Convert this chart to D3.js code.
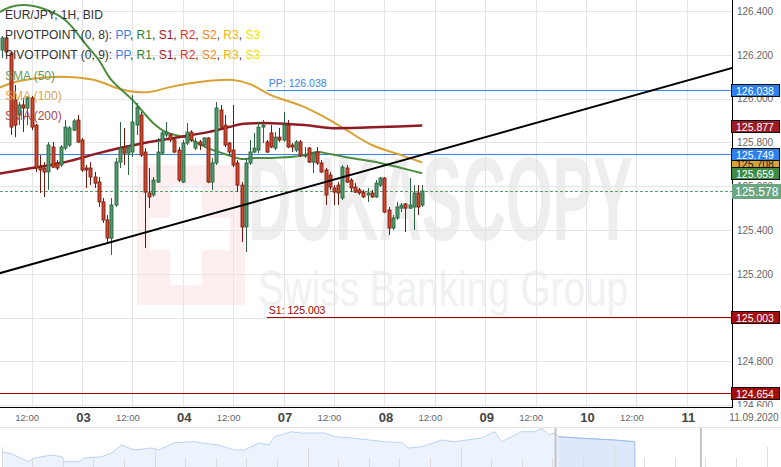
<!DOCTYPE html>
<html><head><meta charset="utf-8">
<script src="https://cdn.jsdelivr.net/npm/d3@7"></script>
<style>
body{margin:0;background:#fff;}
svg{display:block;font-family:"Liberation Sans",Arial,sans-serif;}
</style></head><body>
<svg id="c" width="781" height="467"></svg>
<script>
// ---------------- DATA ----------------
const firstHour = 5; // Sep 2, 05:00 (trading-hour index, weekend collapsed)
const open = [
126.222,126.277,126.208,125.994,125.925,125.971,125.957,126.003,125.879,125.687,
125.683,125.665,125.779,125.706,125.697,125.774,125.788,125.856,125.902,125.811,
125.683,125.683,125.642,125.619,125.528,125.446,125.363,125.514,125.710,125.779,
125.751,125.756,125.879,125.925,125.756,125.569,125.560,125.619,125.751,125.834,
125.834,125.811,125.765,125.619,125.797,125.847,125.774,125.802,125.788,125.820,
125.619,125.706,125.948,125.879,125.797,125.765,125.706,125.605,125.414,125.706,
125.756,125.765,125.870,125.802,125.843,125.774,125.824,125.811,125.879,125.788,
125.765,125.802,125.738,125.774,125.710,125.756,125.706,125.674,125.651,125.592,
125.605,125.546,125.683,125.628,125.596,125.583,125.573,125.560,125.569,125.551,
125.605,125.637,125.491,125.409,125.455,125.500,125.519,125.500,125.505,125.569,
125.514];
const high = [
126.286,126.290,126.213,126.062,125.984,126.003,126.012,126.012,125.884,125.742,
125.710,125.802,125.802,125.719,125.788,125.902,125.875,125.907,125.925,125.820,
125.697,125.710,125.665,125.642,125.546,125.468,125.546,125.729,125.893,125.866,
125.788,126.016,125.980,125.939,125.774,125.683,125.642,125.820,125.852,125.893,
125.843,125.824,125.779,125.811,125.888,125.856,125.820,125.811,125.824,125.824,
125.729,125.984,125.971,125.925,125.802,125.971,125.719,125.619,125.729,125.811,
125.843,125.893,125.902,125.811,125.879,125.847,125.866,125.939,125.902,125.797,
125.811,125.811,125.779,125.779,125.756,125.779,125.719,125.683,125.665,125.605,
125.619,125.697,125.697,125.637,125.614,125.592,125.583,125.592,125.583,125.628,
125.642,125.642,125.505,125.468,125.528,125.523,125.523,125.637,125.605,125.605,
125.605];
const low = [
126.185,126.199,125.834,125.824,125.879,125.847,125.879,125.856,125.665,125.569,
125.551,125.583,125.683,125.674,125.687,125.765,125.779,125.852,125.797,125.665,
125.592,125.605,125.592,125.505,125.432,125.341,125.286,125.505,125.683,125.697,
125.651,125.733,125.834,125.733,125.318,125.500,125.551,125.614,125.742,125.824,
125.802,125.751,125.619,125.614,125.788,125.802,125.765,125.765,125.779,125.614,
125.583,125.697,125.866,125.779,125.742,125.687,125.573,125.345,125.299,125.697,
125.751,125.751,125.797,125.751,125.774,125.765,125.802,125.802,125.774,125.756,
125.756,125.733,125.729,125.706,125.660,125.697,125.660,125.514,125.583,125.514,
125.514,125.537,125.614,125.573,125.569,125.560,125.546,125.528,125.546,125.546,
125.596,125.477,125.377,125.400,125.446,125.482,125.391,125.496,125.400,125.468,
125.505];
const close = [
126.277,126.213,125.870,125.879,125.971,125.957,126.003,125.870,125.683,125.674,
125.665,125.788,125.687,125.683,125.779,125.870,125.866,125.898,125.802,125.674,
125.674,125.642,125.614,125.528,125.446,125.363,125.514,125.710,125.774,125.751,
125.774,125.893,125.961,125.742,125.573,125.551,125.628,125.756,125.843,125.847,
125.811,125.756,125.628,125.797,125.847,125.811,125.802,125.788,125.820,125.619,
125.706,125.957,125.870,125.788,125.756,125.697,125.605,125.414,125.706,125.756,
125.774,125.870,125.879,125.756,125.779,125.824,125.811,125.879,125.779,125.779,
125.802,125.742,125.742,125.710,125.751,125.706,125.665,125.560,125.596,125.573,
125.569,125.687,125.619,125.592,125.573,125.569,125.551,125.569,125.551,125.614,
125.637,125.482,125.409,125.455,125.505,125.514,125.500,125.514,125.569,125.505,
125.578];

const sma50H = [4,7,10,15,20,25,28,31,36,41,44,49,54,58,62,65,69,76,80,83,88,95,100,105];
const sma50V = [126.391,126.418,126.427,126.409,126.359,126.245,126.176,126.085,125.994,125.888,125.847,125.820,125.774,125.747,125.724,125.729,125.729,125.738,125.756,125.747,125.729,125.706,125.683,125.659];
const sma100H = [4,9,16,22,27,33,37,40,46,52,60,64,69,77,83,87,93,100,105];
const sma100V = [126.048,126.080,126.098,126.098,126.085,126.044,126.030,126.030,126.057,126.076,126.085,126.066,126.016,125.961,125.902,125.856,125.788,125.742,125.708];
const sma200H = [4,12,20,28,33,40,47,54,59,62,69,77,83,88,95,105];
const sma200V = [125.656,125.683,125.710,125.751,125.774,125.802,125.824,125.847,125.870,125.884,125.888,125.879,125.866,125.866,125.870,125.877];

const trendH = [0,180];
const trendV = [125.179,126.146];

const pivotNames = ["PP","S1"];
const pivotValues = [126.038,125.003];
const pivotStartH = 68;
const prevPivotValues = [125.749,124.654];
const lastPrice = 125.578;

const yTicks = [124.6,124.8,125.0,125.2,125.4,125.6,125.8,126.0,126.2,126.4];
const xTickHours = [12,24,36,48,60,72,84,96,108,120,132,144,156,168];
const xTickLabels = ["12:00","03","12:00","04","12:00","07","12:00","08","12:00","09","12:00","10","12:00","11"];
const dateLabel = "11.09.2020";

// navigator (weeks, price)
const navT = [0,0.33,0.88,1.08,1.63,1.96,2.06,2.52,2.71,3.27,3.59,3.92,4.15,4.35,4.9,5.13,5.65,6.31,6.54,7.09,7.61,7.94,8.4,8.73,8.92,9.48,9.8,10.56,10.88,11.44,11.99,12.52,13.07,13.3,13.73,14.38,14.8,15.69,16.11,16.34,16.99,17.42,17.65,17.88,18.07,18.2,18.95,20.03,20.69];
const navV = [122.06,121.6,120.06,120.8,121.4,121.06,120.06,120.06,120.8,121.06,121.8,123.4,122.8,122.4,122.8,122.4,123.86,124.06,123.8,123.4,122.4,122.4,123.8,123.4,125.06,126.06,125.8,125.8,125.06,124.8,124.4,124.06,123.9,122.8,123.06,124.4,124.06,124.8,126.06,124.06,126.06,126.06,126.74,125.4,125.8,125.06,124.74,124.4,124.06];
const navSelStart = 18.1;

// ---------------- CHART ----------------
const svg = d3.select("#c");
const plotR = 732, plotB = 407;
const x = d3.scaleLinear().domain([0,168]).range([-18.8, 686.8]);
const y = d3.scaleLinear().domain([124.6,126.4]).range([405.2, 11]);

const defs = svg.append("defs");
defs.append("clipPath").attr("id","clip").append("rect").attr("x",0).attr("y",0).attr("width",plotR).attr("height",plotB);
defs.append("clipPath").attr("id","clipAx").append("rect").attr("x",plotR).attr("y",0).attr("width",60).attr("height",plotB);

svg.append("rect").attr("width",781).attr("height",467).attr("fill","#fff");

const plot = svg.append("g").attr("clip-path","url(#clip)");

// watermark
const wm = plot.append("g");
wm.append("rect").attr("x",137).attr("y",165).attr("width",108).attr("height",140).attr("fill","#fdefef");
wm.append("rect").attr("x",170).attr("y",185).attr("width",32).attr("height",100).attr("fill","#fff");
wm.append("rect").attr("x",150).attr("y",218).attr("width",80).attr("height",32).attr("fill","#fff");
wm.append("text").attr("x",248).attr("y",240).attr("font-size",118).attr("font-weight","bold")
  .attr("fill","#eeeeee").attr("textLength",385).attr("lengthAdjust","spacingAndGlyphs").text("DUKASCOPY");
wm.append("text").attr("x",258).attr("y",306).attr("font-size",50)
  .attr("fill","#f1f1f1").attr("textLength",370).attr("lengthAdjust","spacingAndGlyphs").text("Swiss Banking Group");

// grid
plot.selectAll("line.hg").data(yTicks).join("line")
  .attr("x1",0).attr("x2",plotR).attr("y1",d=>Math.round(y(d))+0.5).attr("y2",d=>Math.round(y(d))+0.5)
  .attr("stroke","#e5e5e5");
plot.selectAll("line.vg").data(xTickHours).join("line")
  .attr("x1",d=>Math.round(x(d))+0.5).attr("x2",d=>Math.round(x(d))+0.5).attr("y1",0).attr("y2",plotB)
  .attr("stroke","#e5e5e5");

// previous-period pivot lines (full width)
const prevColors = ["#3b82e6","#a00000"];
plot.selectAll("line.pp").data(prevPivotValues).join("line")
  .attr("x1",0).attr("x2",plotR).attr("y1",d=>Math.round(y(d))+0.5).attr("y2",d=>Math.round(y(d))+0.5)
  .attr("stroke",(d,i)=>prevColors[i]).attr("stroke-width",1);
// current pivots
const pivColors = ["#3b82e6","#a00000"];
plot.selectAll("line.cp").data(pivotValues).join("line")
  .attr("x1",x(pivotStartH)).attr("x2",plotR).attr("y1",d=>Math.round(y(d))+0.5).attr("y2",d=>Math.round(y(d))+0.5)
  .attr("stroke",(d,i)=>pivColors[i]);
plot.selectAll("text.cp").data(pivotValues).join("text")
  .attr("x",x(pivotStartH)+2).attr("y",d=>y(d)-3).attr("font-size",10.5)
  .attr("fill",(d,i)=>pivColors[i]).text((d,i)=>pivotNames[i]+": "+d3.format(".3f")(d));

// last price dashed
plot.append("line").attr("x1",0).attr("x2",plotR)
  .attr("y1",Math.round(y(lastPrice))+0.5).attr("y2",Math.round(y(lastPrice))+0.5)
  .attr("stroke","#5a9f6e").attr("stroke-dasharray","3,2");

// SMA lines
const lineGen = d3.line().x(d=>x(d[0])).y(d=>y(d[1])).curve(d3.curveCatmullRom.alpha(0.5));
plot.append("path").datum(d3.zip(sma100H,sma100V)).attr("d",lineGen).attr("fill","none").attr("stroke","#d9a033").attr("stroke-width",2);
plot.append("path").datum(d3.zip(sma50H,sma50V)).attr("d",lineGen).attr("fill","none").attr("stroke","#4d8c3f").attr("stroke-width",2);
plot.append("path").datum(d3.zip(sma200H,sma200V)).attr("d",lineGen).attr("fill","none").attr("stroke","#8f1c24").attr("stroke-width",2.5);

// candles
const candles = open.map((o,i)=>({h:firstHour+i,o,hi:high[i],lo:low[i],c:close[i]}));
const cg = plot.append("g");
cg.selectAll("line.w").data(candles).join("line")
  .attr("x1",d=>Math.round(x(d.h))+0.5).attr("x2",d=>Math.round(x(d.h))+0.5)
  .attr("y1",d=>y(d.hi)).attr("y2",d=>y(d.lo))
  .attr("stroke",d=>d.c>=d.o?"#2c6341":"#6e1a10").attr("stroke-width",1);
cg.selectAll("rect.b").data(candles).join("rect")
  .attr("x",d=>Math.round(x(d.h))-1)
  .attr("y",d=>y(Math.max(d.o,d.c)))
  .attr("width",3)
  .attr("height",d=>Math.max(1,Math.abs(y(d.o)-y(d.c))))
  .attr("fill",d=>d.c>=d.o?"#4f9c6c":"#d2462c")
  .attr("stroke",d=>d.c>=d.o?"#2c6341":"#7a1f12").attr("stroke-width",0.9);

// trend line
plot.append("path").datum(d3.zip(trendH,trendV)).attr("d",d3.line().x(d=>x(d[0])).y(d=>y(d[1])))
  .attr("stroke","#000").attr("stroke-width",2).attr("fill","none");

// legend
const leg = svg.append("g").attr("font-size",12);
leg.append("text").attr("x",5).attr("y",19).attr("fill","#333").text("EUR/JPY, 1H, BID");
const pivParts = [["PP","#3b82e6"],["R1","#3a7d2a"],["S1","#a31c1c"],["R2","#e8302c"],["S2","#f58220"],["R3","#f2b705"],["S3","#f0e300"]];
[["PIVOTPOINT (0, 8): ",39],["PIVOTPOINT (0, 9): ",59]].forEach(([lbl,yy])=>{
  const t = leg.append("text").attr("x",5).attr("y",yy).attr("fill","#333");
  t.append("tspan").text(lbl);
  pivParts.forEach(([n,c],i)=>{
    t.append("tspan").attr("fill",c).text(n);
    if(i<pivParts.length-1) t.append("tspan").attr("fill","#333").text(", ");
  });
});
leg.append("text").attr("x",5).attr("y",80).attr("fill","#5f9a5a").text("SMA (50)");
leg.append("text").attr("x",5).attr("y",100).attr("fill","#dca448").text("SMA (100)");
leg.append("text").attr("x",5).attr("y",120).attr("fill","#a84848").text("SMA (200)");

// frame
svg.append("line").attr("x1",plotR+0.5).attr("x2",plotR+0.5).attr("y1",0).attr("y2",plotB).attr("stroke","#000");
svg.append("line").attr("x1",0).attr("x2",plotR+1).attr("y1",plotB+0.5).attr("y2",plotB+0.5).attr("stroke","#000");

// right axis
const axG = svg.append("g").attr("clip-path","url(#clipAx)").append("g").attr("transform",`translate(${plotR},0)`)
  .call(d3.axisRight(y).tickValues(yTicks).tickSize(0).tickPadding(5).tickFormat(d3.format(".3f")));
axG.select(".domain").remove();
axG.selectAll("text").attr("fill","#666").attr("font-size",10).attr("font-family","Liberation Sans, Arial, sans-serif");

// axis value labels
const axLabels = [
  {v:126.038, fill:"#2f80ed", tc:"#fff"},
  {v:125.877, fill:"#9c1c26", tc:"#fff"},
  {v:125.708, fill:"#d6a23a", tc:"#222"},
  {v:125.749, fill:"#2f80ed", tc:"#fff"},
  {v:125.659, fill:"#3f8b43", tc:"#fff"},
  {v:125.003, fill:"#a30d0d", tc:"#fff"},
  {v:124.654, fill:"#a30d0d", tc:"#fff"}
];
const lg = svg.append("g");
axLabels.forEach(d=>{
  const cy = Math.round(y(d.v));
  lg.append("rect").attr("x",plotR-0.5).attr("y",cy-5.5).attr("width",48).attr("height",12)
    .attr("fill",d.fill).attr("stroke","#111").attr("stroke-width",1);
  lg.append("text").attr("x",plotR+4).attr("y",cy+4.5).attr("font-size",10.5).attr("fill",d.tc).text(d3.format(".3f")(d.v));
});
{
  const cy = Math.round(y(lastPrice));
  lg.append("rect").attr("x",plotR).attr("y",cy-7).attr("width",49).attr("height",15).attr("fill","#6aa67f");
  lg.append("text").attr("x",plotR+3).attr("y",cy+5).attr("font-size",12).attr("fill","#fff").text(d3.format(".3f")(lastPrice));
}

// bottom time axis
const tg = svg.append("g");
tg.selectAll("text").data(xTickHours).join("text")
  .attr("x",(d,i)=>x(d)+(xTickLabels[i]==="12:00"?-4.5:1.5))
  .attr("y",(d,i)=>xTickLabels[i]==="12:00"?421:422)
  .attr("text-anchor","middle")
  .attr("font-size",(d,i)=>xTickLabels[i]==="12:00"?9.5:13)
  .attr("font-weight",(d,i)=>xTickLabels[i]==="12:00"?"normal":"bold")
  .attr("fill",(d,i)=>xTickLabels[i]==="12:00"?"#666":"#444")
  .text((d,i)=>xTickLabels[i]);
tg.append("text").attr("x",754).attr("y",421).attr("text-anchor","middle").attr("font-size",10).attr("fill","#666").text(dateLabel);

// navigator
const nx = d3.scaleLinear().domain([0,25.52]).range([1.7,782.6]);
const ny = d3.scaleLinear().domain([119,127]).range([467,427]);
svg.append("line").attr("x1",0).attr("x2",781).attr("y1",427.5).attr("y2",427.5).attr("stroke","#e4e4e4");
const navData = d3.zip(navT,navV);
const area = d3.area().x(d=>nx(d[0])).y0(467).y1(d=>ny(d[1]));
const nline = d3.line().x(d=>nx(d[0])).y(d=>ny(d[1]));
svg.append("path").datum(navData).attr("d",area).attr("fill","#edf3fd");
svg.append("path").datum(navData.filter(d=>d[0]>=navSelStart)).attr("d",area).attr("fill","#dde8fb");
svg.append("path").datum(navData).attr("d",nline).attr("fill","none").attr("stroke","#bcd2f4");
svg.append("path").datum(navData.filter(d=>d[0]>=navSelStart)).attr("d",nline).attr("fill","none").attr("stroke","#9fbdee");
svg.append("line").attr("x1",nx(navT[navT.length-1])).attr("x2",nx(navT[navT.length-1])).attr("y1",ny(navV[navV.length-1])).attr("y2",467).attr("stroke","#9fbdee");
const navTicks = d3.range(0,26);
svg.selectAll("line.nt").data(navTicks).join("line")
  .attr("x1",d=>Math.round(nx(d))+0.5).attr("x2",d=>Math.round(nx(d))+0.5)
  .attr("y1",d=>d%5===0?447:458).attr("y2",467).attr("stroke","#dcdcdc");
[navSelStart, 22.85].forEach(t=>{
  svg.append("line").attr("x1",nx(t)).attr("x2",nx(t)).attr("y1",428).attr("y2",467).attr("stroke","#c4c4c4").attr("stroke-width",2);
});
</script>
</body></html>
